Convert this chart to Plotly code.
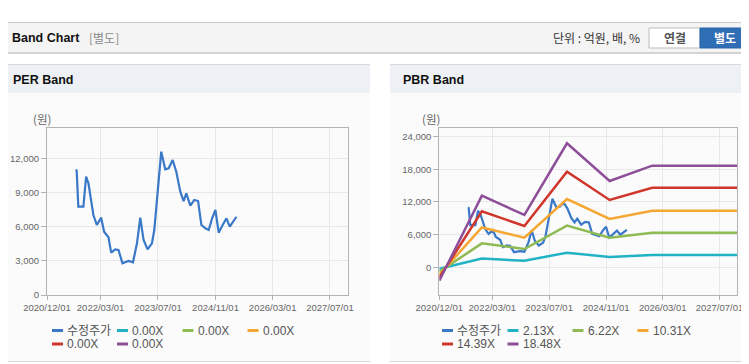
import plotly.graph_objects as go

# The html page body has an 8px default margin, so the figure is offset by it.
OX, OY = 8, 8
W, H = 741, 356

# ---------------- data ----------------
price_dates = [
    '2021-08-05', '2021-08-10', '2021-08-24', '2021-10-06', '2021-10-29', '2021-11-18',
    '2021-12-30', '2022-01-28', '2022-03-06', '2022-03-31', '2022-05-07', '2022-05-30',
    '2022-07-03', '2022-07-31', '2022-09-03', '2022-10-24', '2022-12-01', '2023-01-04',
    '2023-02-01', '2023-03-01', '2023-04-04', '2023-05-11', '2023-05-31', '2023-06-28',
    '2023-07-29', '2023-09-01', '2023-09-30', '2023-11-03', '2023-12-04', '2024-01-07',
    '2024-02-04', '2024-02-27', '2024-04-01', '2024-05-05', '2024-06-06', '2024-07-04',
    '2024-08-07', '2024-09-04', '2024-10-03', '2024-10-31', '2024-11-28', '2024-12-27',
    '2025-02-02', '2025-03-02', '2025-04-05', '2025-04-28']
price_values = [
    11030, 10900, 7750, 7750, 10385, 9800,
    7020, 6145, 6790, 5560, 5065, 3715,
    4010, 3950, 2780, 2985, 2870, 4535,
    6790, 4830, 4010, 4535, 5705, 9215,
    12580, 11030, 11120, 11850, 10825, 9070,
    8250, 8925, 7840, 8340, 8250, 6145,
    5855, 5705, 6730, 7460, 5470, 6055,
    6730, 5995, 6585, 6870]

band_dates = ['2020-12-01', '2021-12-01', '2022-12-01', '2023-12-01',
              '2024-12-01', '2025-12-01', '2027-12-01']
band_2_13 = [-280, 1600, 1210, 2680, 1900, 2260, 2260]
band_6_22 = [-830, 4400, 3360, 7650, 5440, 6350, 6350]
band_10_31 = [-1370, 7330, 5440, 12550, 8880, 10400, 10400]
band_14_39 = [-1910, 10300, 7590, 17570, 12370, 14630, 14630]
band_18_48 = [-2460, 13150, 9610, 22790, 15860, 18670, 18670]

per_names = ['수정주가', '0.00X', '0.00X', '0.00X', '0.00X', '0.00X']
pbr_names = ['수정주가', '2.13X', '6.22X', '10.31X', '14.39X', '18.48X']
series_colors = ['#3a78c8', '#22b2c6', '#8fbb55', '#f5a733', '#cf372d', '#8c4f98']

x_tickvals = ['2020-12-01', '2022-03-01', '2023-07-01', '2024-11-01', '2026-03-01', '2027-07-01']
x_ticktext = ['2020/12/01', '2022/03/01', '2023/07/01', '2024/11/01', '2026/03/01', '2027/07/01']
x_range = ['2020-12-01', '2027-12-01']
per_y_range = [0, 14660]
pbr_y_range = [-5090, 25540]


def px(x):
    return (x - OX) / W


def py(y):
    return 1 - (y - OY) / H


fig = go.Figure()

# PER chart
fig.add_trace(go.Scatter(x=price_dates, y=price_values, mode='lines', name=per_names[0],
                         line=dict(color=series_colors[0], width=2.2),
                         xaxis='x', yaxis='y', showlegend=False))
for i in range(1, 6):
    fig.add_trace(go.Scatter(x=[], y=[], mode='lines', name=per_names[i],
                             line=dict(color=series_colors[i], width=2.5),
                             xaxis='x', yaxis='y', showlegend=False))

# PBR chart
fig.add_trace(go.Scatter(x=price_dates, y=price_values, mode='lines', name=pbr_names[0],
                         line=dict(color=series_colors[0], width=2.2),
                         xaxis='x2', yaxis='y2', showlegend=False))
for i, vals in enumerate([band_2_13, band_6_22, band_10_31, band_14_39, band_18_48], start=1):
    fig.add_trace(go.Scatter(x=band_dates, y=vals, mode='lines', name=pbr_names[i],
                             line=dict(color=series_colors[i], width=2.5),
                             xaxis='x2', yaxis='y2', showlegend=False))

tickfont = dict(family='Liberation Sans, Arial, sans-serif', size=9.5, color='#666666')
axis_common = dict(showline=True, linecolor='#b3b3b3', linewidth=1, mirror=True,
                   showgrid=True, gridcolor='#e8e8e8', gridwidth=1, zeroline=False,
                   ticks='outside', tickcolor='#b3b3b3', tickfont=tickfont,
                   fixedrange=True, automargin=False)

fig.update_layout(
    width=W, height=H, autosize=False,
    margin=dict(l=0, r=0, t=0, b=0, pad=0, autoexpand=False),
    paper_bgcolor='white', plot_bgcolor='white',
    showlegend=False,
    xaxis=dict(domain=[px(47), px(348)], anchor='y', type='date', range=x_range,
               tickmode='array', tickvals=x_tickvals, ticktext=x_ticktext, ticklen=4,
               **axis_common),
    yaxis=dict(domain=[py(295), py(128)], anchor='x', range=per_y_range,
               tickmode='linear', tick0=0, dtick=3000, tickformat=',', ticklen=5,
               **axis_common),
    xaxis2=dict(domain=[px(439.3), px(737.3)], anchor='y2', type='date', range=x_range,
                tickmode='array', tickvals=x_tickvals, ticktext=x_ticktext, ticklen=4,
                **axis_common),
    yaxis2=dict(domain=[py(295), py(128.3)], anchor='x2', range=pbr_y_range,
                tickmode='linear', tick0=0, dtick=6000, tickformat=',', ticklen=5,
                **axis_common),
)

shapes = []


def rect(x0, y0, x1, y1, fill, line_color=None, lw=0):
    shapes.append(dict(type='rect', xref='paper', yref='paper', layer='below',
                       x0=px(x0), x1=px(x1), y0=py(y1), y1=py(y0),
                       fillcolor=fill,
                       line=dict(color=line_color or fill, width=lw)))


def hline(x0, x1, y, color, w=1, layer='below'):
    shapes.append(dict(type='line', xref='paper', yref='paper', layer=layer,
                       x0=px(x0), x1=px(x1), y0=py(y), y1=py(y),
                       line=dict(color=color, width=w)))


# top header bar
rect(0, 23, 760, 52, '#f4f4f4')
hline(0, 760, 22.5, '#c9c9c9', 1)
hline(0, 760, 53, '#d4d4d4', 2)
# buttons
rect(649, 28, 700, 48, '#ffffff', '#bdbdbd', 1)
rect(700, 28, 760, 48, '#2f6db4', '#2a64a8', 1)

# panels
for (a, b) in [(0, 370), (390, 760)]:
    rect(a, 93, b, 361, '#fbfbfb')
    rect(a, 65, b, 93, '#edf1f6')
    hline(a, b, 64.5, '#d9d9d9', 1)
    hline(a, b, 361.5, '#d6d6d6', 1)

annotations = []


def text(x, y, s, size=12, color='#555555', family='Liberation Sans, Noto Sans CJK KR, sans-serif',
         xanchor='left', bold=False):
    if bold:
        s = '<b>' + s + '</b>'
    annotations.append(dict(xref='paper', yref='paper', x=px(x), y=py(y), text=s,
                            showarrow=False, xanchor=xanchor, yanchor='middle',
                            font=dict(size=size, color=color, family=family)))


text(10, 38, 'Band Chart', size=12.5, color='#111111', bold=True)
text(87, 38, '[별도]', size=12, color='#8a8a8a', family='Noto Sans CJK KR, sans-serif')
text(642, 38, '단위 : 억원, 배, %', size=12, color='#333333',
     family='Noto Sans CJK KR, sans-serif', xanchor='right')
text(674.5, 38, '연결', size=12, color='#555555', family='Noto Sans CJK KR, sans-serif',
     xanchor='center', bold=True)
text(724.5, 38, '별도', size=12, color='#ffffff', family='Noto Sans CJK KR, sans-serif',
     xanchor='center', bold=True)

text(11, 80, 'PER Band', size=12.5, color='#111111', bold=True)
text(401, 80, 'PBR Band', size=12.5, color='#111111', bold=True)
text(31, 119, '(원)', size=11.5, color='#666666', family='Noto Sans CJK KR, sans-serif')
text(420, 119, '(원)', size=11.5, color='#666666', family='Noto Sans CJK KR, sans-serif')

# custom legends
rows = [330.5, 344]
left_slots = [(52, rows[0]), (117, rows[0]), (182.5, rows[0]), (247.5, rows[0]),
              (52, rows[1]), (117, rows[1])]
right_slots = [(442, rows[0]), (507.5, rows[0]), (572.5, rows[0]), (637.5, rows[0]),
               (442, rows[1]), (507.5, rows[1])]
for names, slots in [(per_names, left_slots), (pbr_names, right_slots)]:
    for name, color, (gx, gy) in zip(names, series_colors, slots):
        shapes.append(dict(type='line', xref='paper', yref='paper', layer='above',
                           x0=px(gx), x1=px(gx + 11), y0=py(gy), y1=py(gy),
                           line=dict(color=color, width=3)))
        text(gx + 13, gy, name, size=12, color='#555555')

fig.update_layout(shapes=shapes, annotations=annotations)

fig.write_html('out.html')
